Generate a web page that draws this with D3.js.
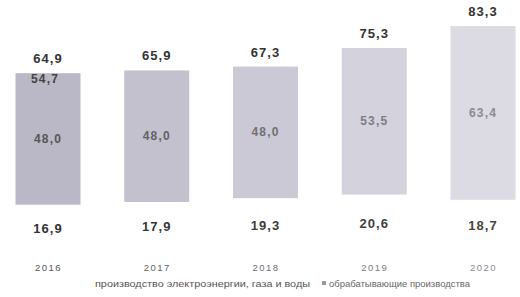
<!DOCTYPE html>
<html>
<head>
<meta charset="utf-8">
<script src="https://cdn.jsdelivr.net/npm/d3@7"></script>
<style>
  html, body { margin: 0; padding: 0; background: #fff; }
  svg { display: block; }
</style>
</head>
<body>
<div id="chart"></div>
<script>
// data
const years = ['2016', '2017', '2018', '2019', '2020'];
const energy = [16.9, 17.9, 19.3, 20.6, 18.7];       // производство электроэнергии, газа и воды
const manufacturing = [48.0, 48.0, 48.0, 53.5, 63.4]; // обрабатывающие производства
const totals = [64.9, 65.9, 67.3, 75.3, 83.3];
const extraLabel = { year: '2016', value: 54.7 };
const seriesNames = ['производство электроэнергии, газа и воды', 'обрабатывающие производства'];

const width = 520, height = 297;
const locale = d3.formatLocale({ decimal: ',', thousands: ' ', grouping: [3], currency: ['', ''] });
const fmt = locale.format('.1f');
const font = 'Liberation Sans, Arial, sans-serif';

const svg = d3.select('#chart').append('svg')
    .attr('width', width)
    .attr('height', height);

const x = d3.scalePoint().domain(years).range([48, 483]);
const barW = 65;
const y = d3.scaleLinear().domain([0, 90]).range([251, 4.4]);

// scanned grey, slightly lighter towards the right
const shade = d3.scaleLinear().domain([0, years.length - 1]).range(['#bab8c7', '#dcdae3']);
const textShade = d3.scaleLinear().domain([0, years.length - 1]).range(['#555', '#8a8a90']);

const rows = years.map((yr, i) => ({ year: yr, i, energy: energy[i], manuf: manufacturing[i], total: totals[i] }));

// manufacturing segment (energy segment is white in the source)
svg.selectAll('.bar')
    .data(rows)
    .enter()
    .append('rect')
    .attr('class', 'bar')
    .attr('x', d => x(d.year) - barW / 2)
    .attr('width', barW)
    .attr('y', d => y(d.energy + d.manuf))
    .attr('height', d => y(d.energy) - y(d.energy + d.manuf))
    .style('fill', d => shade(d.i));

// totals above bars
svg.selectAll('.total')
    .data(rows)
    .enter()
    .append('text')
    .attr('class', 'total')
    .attr('x', d => x(d.year))
    .attr('y', d => y(d.energy + d.manuf) - 10)
    .attr('text-anchor', 'middle')
    .style('font-family', font)
    .style('font-size', '13px')
    .style('font-weight', '700')
    .style('letter-spacing', '1px')
    .style('fill', '#333')
    .text(d => fmt(d.total));

// values inside bars
svg.selectAll('.inner')
    .data(rows)
    .enter()
    .append('text')
    .attr('class', 'inner')
    .attr('x', d => x(d.year))
    .attr('y', d => y(d.energy + d.manuf / 2) + 4)
    .attr('text-anchor', 'middle')
    .style('font-family', font)
    .style('font-size', '12px')
    .style('font-weight', '700')
    .style('letter-spacing', '1.2px')
    .style('fill', d => textShade(d.i))
    .text(d => fmt(d.manuf));

// stray label in the first bar
svg.append('text')
    .attr('x', x(extraLabel.year) - 3)
    .attr('y', y(energy[0] + manufacturing[0]) + 10)
    .attr('text-anchor', 'middle')
    .style('font-family', font)
    .style('font-size', '12px')
    .style('font-weight', '700')
    .style('letter-spacing', '1.2px')
    .style('fill', '#444')
    .text(fmt(extraLabel.value));

// energy values in the (white) bottom segment
svg.selectAll('.bottom')
    .data(rows)
    .enter()
    .append('text')
    .attr('class', 'bottom')
    .attr('x', d => x(d.year))
    .attr('y', d => y(d.energy / 2) + 5)
    .attr('text-anchor', 'middle')
    .style('font-family', font)
    .style('font-size', '13px')
    .style('font-weight', '700')
    .style('letter-spacing', '1px')
    .style('fill', d => d3.interpolate('#333', '#444')(d.i / 4))
    .text(d => fmt(d.energy));

// year axis
const xAxis = svg.append('g')
    .attr('transform', `translate(0,${y(0)})`)
    .call(d3.axisBottom(x).tickSize(0).tickPadding(13));
xAxis.select('.domain').remove();
xAxis.selectAll('text')
    .style('font-family', font)
    .style('font-size', '9.5px')
    .style('letter-spacing', '1.5px')
    .style('fill', (d, i) => textShade(i));

// legend
const legend = svg.append('g').attr('transform', 'translate(0,287)');
legend.append('text')
    .attr('x', 95)
    .attr('textLength', 215)
    .attr('lengthAdjust', 'spacingAndGlyphs')
    .style('font-family', font)
    .style('font-size', '8.5px')
    .style('fill', '#555')
    .text(seriesNames[0]);
legend.append('rect')
    .attr('x', 322)
    .attr('y', -6)
    .attr('width', 4)
    .attr('height', 4)
    .style('fill', '#999');
legend.append('text')
    .attr('x', 329)
    .attr('textLength', 141)
    .attr('lengthAdjust', 'spacingAndGlyphs')
    .style('font-family', font)
    .style('font-size', '8.5px')
    .style('fill', '#666')
    .text(seriesNames[1]);
</script>
</body>
</html>
